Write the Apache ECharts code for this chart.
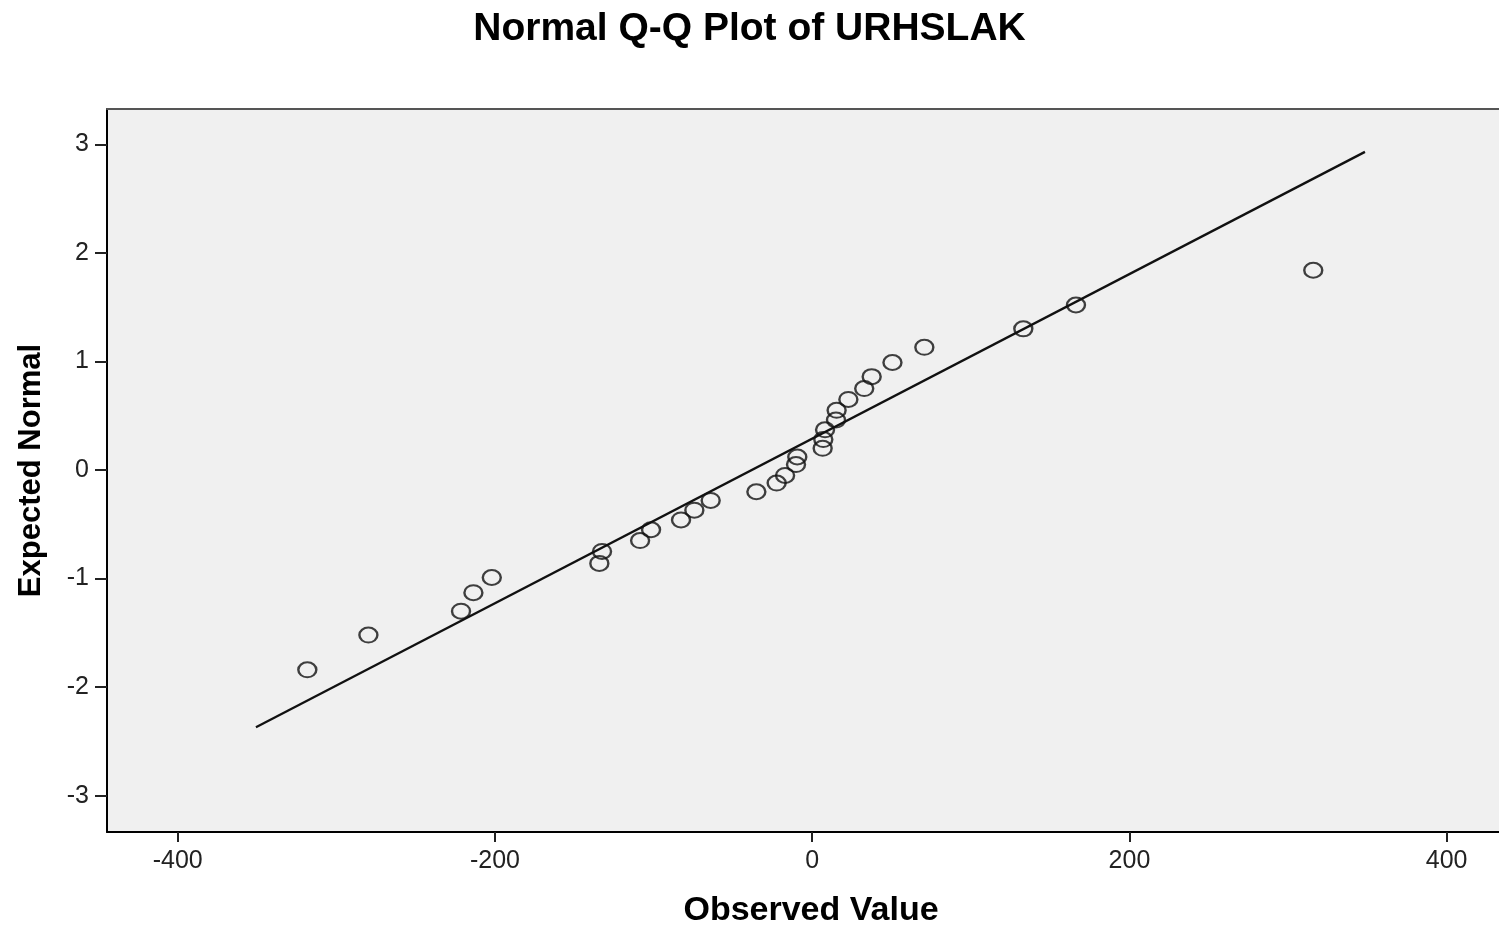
<!DOCTYPE html>
<html style="height: 100%">
<head>
   <meta charset="utf-8">
   <title>Normal Q-Q Plot of URHSLAK</title>
</head>
<style>
    body, html, #chart {
        width: 100%;
        height: 100%;
        margin: 0;
        background: #fff;
    }
</style>
<script src="https://cdn.jsdelivr.net/npm/echarts@6/dist/echarts.min.js"></script>
<body>
   <div id="chart"></div>
   <script type="text/javascript">
    var observed = [-318.3, -279.8, -221.4, -213.6, -202.0, -134.2, -132.5, -108.5, -101.6, -82.7,
                    -74.3, -64.0, -35.2, -22.4, -17.1, -10.2, -9.4, 6.6, 7.0, 8.1,
                    15.0, 15.4, 22.8, 32.8, 37.5, 50.6, 70.7, 133.1, 166.3, 315.9];
    var expected = [-1.84, -1.52, -1.30, -1.13, -0.99, -0.86, -0.75, -0.65, -0.55, -0.46,
                    -0.37, -0.28, -0.20, -0.12, -0.05, 0.05, 0.12, 0.20, 0.28, 0.37,
                    0.46, 0.55, 0.65, 0.75, 0.86, 0.99, 1.13, 1.30, 1.52, 1.84];
    // reference line end points
    var lineX = [-350.7, 348.5];
    var lineY = [-2.37, 2.93];
    var xTicks = [-400, -200, 0, 200, 400];
    var yTicks = [-3, -2, -1, 0, 1, 2, 3];

    var points = observed.map(function (v, i) { return [v, expected[i]]; });
    var refLine = lineX.map(function (v, i) { return [v, lineY[i]]; });

    var chart = echarts.init(document.getElementById("chart"));
    var font = 'Liberation Sans, Arial, sans-serif';
    var option = {
        backgroundColor: '#fff',
        animation: false,
        title: {
            text: 'Normal Q-Q Plot of URHSLAK',
            left: 'center',
            top: 5,
            textStyle: { fontFamily: font, fontSize: 39, fontWeight: 'bold', color: '#000' }
        },
        grid: {
            left: 107, top: 109, right: 0, bottom: 96,
            outerBoundsMode: 'none',
            containLabel: false,
            show: true, backgroundColor: '#f0f0f0', borderWidth: 0
        },
        xAxis: [{
            type: 'value',
            min: -444.6, max: 433,
            name: 'Observed Value',
            nameLocation: 'middle',
            nameGap: 62,
            nameTextStyle: { fontFamily: font, fontSize: 34, fontWeight: 'bold', color: '#000', padding: [0, 0, 0, 16] },
            axisLine: { onZero: false, lineStyle: { color: '#000', width: 2 } },
            axisTick: { show: true, length: 10, lineStyle: { color: '#222', width: 2 }, customValues: xTicks },
            axisLabel: { fontFamily: font, fontSize: 25, color: '#222', margin: 17, customValues: xTicks },
            splitLine: { show: false }
        }, {
            type: 'value',
            position: 'top',
            min: -444.6, max: 433,
            axisLine: { show: true, onZero: false, lineStyle: { color: '#555', width: 2 } },
            axisTick: { show: false },
            axisLabel: { show: false },
            splitLine: { show: false }
        }],
        yAxis: {
            type: 'value',
            min: -3.334, max: 3.325,
            name: 'Expected Normal',
            nameLocation: 'middle',
            nameGap: 60,
            nameTextStyle: { fontFamily: font, fontSize: 31, fontWeight: 'bold', color: '#000' },
            axisLine: { show: true, onZero: false, lineStyle: { color: '#000', width: 2 } },
            axisTick: { show: true, length: 12, lineStyle: { color: '#222', width: 2 }, customValues: yTicks },
            axisLabel: { fontFamily: font, fontSize: 25, color: '#222', margin: 18, customValues: yTicks },
            splitLine: { show: false }
        },
        series: [{
            type: 'line',
            data: refLine,
            symbol: 'none',
            lineStyle: { color: '#111', width: 2.3 },
            z: 2
        }, {
            type: 'scatter',
            data: points,
            symbol: 'circle',
            symbolSize: [18, 15],
            itemStyle: { color: 'rgba(0,0,0,0)', borderColor: '#111', borderWidth: 2.2 },
            z: 3
        }]
    };
    chart.setOption(option);
   </script>
</body>
</html>
